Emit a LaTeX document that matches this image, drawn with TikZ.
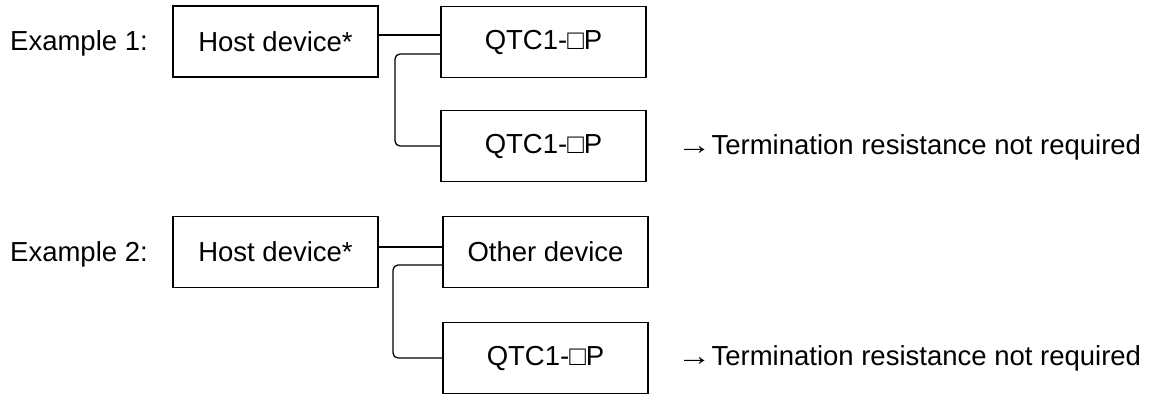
\documentclass[tikz,border=0pt]{standalone}
\usepackage{fontspec}
\setmainfont{Liberation Sans}
\newcommand{\longarr}{\scalebox{1.25}[1]{→}}
\begin{document}
\begin{tikzpicture}[x=1pt,y=-1pt,
  box/.style={draw,line width=1.3pt,rectangle,minimum width=205pt,minimum height=71pt,inner sep=0pt,font=\fontsize{27.5}{30}\selectfont},
  lbl/.style={anchor=base west,inner sep=0pt,font=\fontsize{27.5}{30}\selectfont},
  wire/.style={line width=1.3pt,rounded corners=5pt}]
\useasboundingbox (0,0) rectangle (1154,396);
% Example 1
\node[lbl] (e1) at (10,51) {Example 1:};
\node[box] (h1) at (275.5,41.5) {Host device*};
\node[box] (q1) at (543.5,42) {QTC1-□P};
\node[box] (q2) at (543.5,146) {QTC1-□P};
\node[lbl] (n1) at (677,154) {\longarr Termination resistance not required};
\coordinate (a1) at (0,35);
\coordinate (b1) at (0,54);
\coordinate (c1) at (395,0);
\draw[wire] (h1.east |- a1) -- (q1.west |- a1);
\draw[wire] (q1.west |- b1) -- (c1 |- b1) -- (c1 |- q2.west) -- (q2.west);
% Example 2
\node[lbl] (e2) at (10,261) {Example 2:};
\node[box] (h2) at (275.5,252) {Host device*};
\node[box] (o) at (545.5,252) {Other device};
\node[box] (q3) at (545.5,358) {QTC1-□P};
\node[lbl] (n2) at (677,365) {\longarr Termination resistance not required};
\coordinate (a2) at (0,247);
\coordinate (b2) at (0,265);
\coordinate (c2) at (393,0);
\draw[wire] (h2.east |- a2) -- (o.west |- a2);
\draw[wire] (o.west |- b2) -- (c2 |- b2) -- (c2 |- q3.west) -- (q3.west);
\end{tikzpicture}
\end{document}
